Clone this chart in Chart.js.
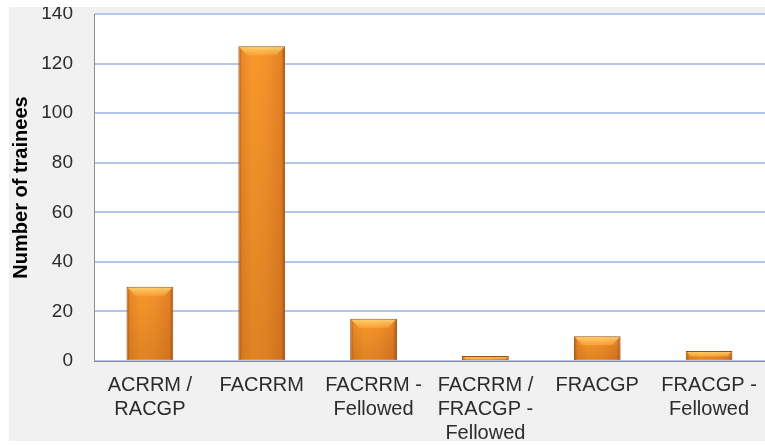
<!DOCTYPE html>
<html>
<head>
<meta charset="utf-8">
<script src="https://cdn.jsdelivr.net/npm/chart.js@4/dist/chart.umd.min.js"></script>
<style>
  html, body { margin: 0; padding: 0; background: #ffffff; }
  #panel { position: absolute; left: 9px; top: 7px; width: 756px; height: 434px; background: #f1f1f1; overflow: hidden; }
  canvas { display: block; }
</style>
</head>
<body>
<div id="panel"><canvas id="c" width="756" height="434"></canvas></div>
<script>
const categories = [
  ["ACRRM /", "RACGP"],
  ["FACRRM"],
  ["FACRRM -", "Fellowed"],
  ["FACRRM /", "FRACGP -", "Fellowed"],
  ["FRACGP"],
  ["FRACGP -", "Fellowed"]
];
const trainees = [30, 127, 17, 2, 10, 4];
const yTicks = [0, 20, 40, 60, 80, 100, 120, 140];
const yTitle = "Number of trainees";

const FONT = "'Liberation Sans', Arial, sans-serif";
const BAR_FRACTION = 0.418;

function barGradient(context) {
  const chart = context.chart;
  if (!chart.chartArea || !chart.scales.x) return '#f39530';
  const xs = chart.scales.x;
  const cx = xs.getPixelForValue(context.dataIndex);
  const w = xs.width / categories.length * BAR_FRACTION;
  const g = chart.ctx.createLinearGradient(cx - w / 2, 0, cx + w / 2, 0);
  g.addColorStop(0, '#b45c16');
  g.addColorStop(0.08, '#ec8a26');
  g.addColorStop(0.3, '#f8982c');
  g.addColorStop(0.6, '#f5932b');
  g.addColorStop(0.92, '#e48226');
  g.addColorStop(1, '#a55317');
  return g;
}

const plotBg = {
  id: 'plotBg',
  beforeDraw(chart) {
    const { ctx, chartArea: a } = chart;
    ctx.save();
    ctx.fillStyle = '#ffffff';
    ctx.fillRect(a.left, a.top, a.right - a.left, a.bottom - a.top);
    ctx.restore();
  }
};

const bevel = {
  id: 'bevel',
  afterDatasetsDraw(chart) {
    const { ctx } = chart;
    const meta = chart.getDatasetMeta(0);
    ctx.save();
    meta.data.forEach((bar) => {
      const left = bar.x - bar.width / 2;
      const right = bar.x + bar.width / 2;
      const top = bar.y;
      const h = Math.abs(bar.base - bar.y);
      const d = Math.min(8, h / 2);
      ctx.beginPath();
      ctx.moveTo(left + 1, top + 1);
      ctx.lineTo(right - 1, top + 1);
      ctx.lineTo(right - 1 - d, top + 1 + d);
      ctx.lineTo(left + 1 + d, top + 1 + d);
      ctx.closePath();
      const gt = ctx.createLinearGradient(0, top, 0, top + d + 1);
      gt.addColorStop(0, 'rgba(255, 226, 130, 0.85)');
      gt.addColorStop(1, 'rgba(255, 190, 80, 0.35)');
      ctx.fillStyle = gt;
      ctx.fill();
      const gb = ctx.createLinearGradient(0, top, 0, bar.base);
      gb.addColorStop(0, 'rgba(120, 50, 0, 0)');
      gb.addColorStop(1, 'rgba(120, 50, 0, 0.2)');
      ctx.fillStyle = gb;
      ctx.fillRect(left + 1, top + 1 + d, right - left - 2, Math.max(0, h - 2 - d));
    });
    ctx.restore();
  }
};

new Chart(document.getElementById('c'), {
  type: 'bar',
  data: {
    labels: categories,
    datasets: [{
      data: trainees,
      backgroundColor: barGradient,
      borderColor: '#9a4e14',
      borderWidth: 1,
      barPercentage: BAR_FRACTION,
      categoryPercentage: 1
    }]
  },
  options: {
    responsive: false,
    animation: false,
    events: [],
    layout: { padding: { top: 7, left: 0, right: 0, bottom: 0 } },
    plugins: { legend: { display: false }, tooltip: { enabled: false } },
    scales: {
      x: {
        grid: { display: false, drawTicks: false },
        border: { display: true, color: '#8c8c8c', width: 1 },
        ticks: {
          color: '#2b2b2b',
          font: { family: FONT, size: 20, lineHeight: 1.2 },
          padding: 12,
          maxRotation: 0,
          autoSkip: false
        },
        afterFit(scale) {
          scale.height = 80;
          scale.paddingLeft = 0; scale.paddingRight = 0;
        }
      },
      y: {
        min: 0,
        max: 140,
        afterBuildTicks(scale) { scale.ticks = yTicks.map(v => ({ value: v })); },
        grid: { color: '#b3c7ea', lineWidth: 2, drawTicks: false },
        border: { display: true, color: '#8c8c8c', width: 1 },
        ticks: {
          color: '#2b2b2b',
          font: { family: FONT, size: 19 },
          padding: 21
        },
        title: {
          display: true,
          text: yTitle,
          color: '#000000',
          font: { family: FONT, size: 20, weight: 'bold' },
          padding: 0
        },
        afterFit(scale) {
          scale.width = 85;
          scale.paddingTop = 0; scale.paddingBottom = 0;
        }
      }
    }
  },
  plugins: [plotBg, bevel]
});
</script>
</body>
</html>
